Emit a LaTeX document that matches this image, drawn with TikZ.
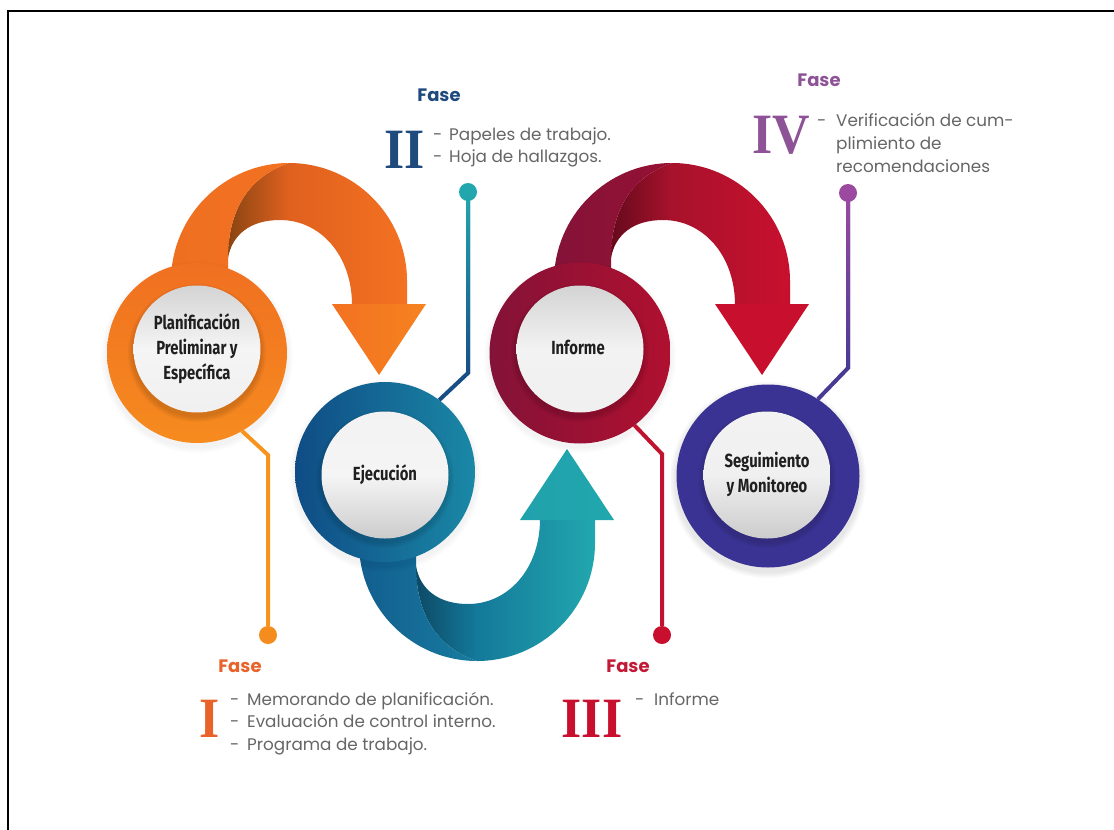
\documentclass[tikz,border=0pt]{standalone}
\usepackage{fontspec}
\setmainfont{Poppins}
\newfontfamily\labfont[FakeStretch=0.78]{Fira Sans}
\newfontfamily\romfont[FakeStretch=0.91]{Liberation Serif}
\usetikzlibrary{calc}
\definecolor{orA}{HTML}{8A4512}\definecolor{orB}{HTML}{E0611F}\definecolor{orC}{HTML}{F37121}
\definecolor{teA}{HTML}{0D4A66}\definecolor{teB}{HTML}{14799A}\definecolor{teC}{HTML}{22A7AE}
\definecolor{reA}{HTML}{660A1C}\definecolor{reB}{HTML}{A8122C}\definecolor{reC}{HTML}{C8102E}
\definecolor{ringAt}{HTML}{F07021}\definecolor{ringAb}{HTML}{F68B1F}
\definecolor{ringBl}{HTML}{0F4C85}\definecolor{ringBr}{HTML}{1A88A6}
\definecolor{ringCl}{HTML}{841238}\definecolor{ringCr}{HTML}{B0102F}
\definecolor{ringD}{HTML}{3B3393}
\definecolor{lineA}{HTML}{F7941E}\definecolor{lineB}{HTML}{174E86}\definecolor{lineC}{HTML}{C0132F}
\definecolor{lineD}{HTML}{4A3A94}\definecolor{dotD}{HTML}{9B4A9F}
\definecolor{faseA}{HTML}{E8622A}\definecolor{faseB}{HTML}{1F4A7E}\definecolor{faseC}{HTML}{C21A36}\definecolor{faseD}{HTML}{8E5296}
\pgfdeclarehorizontalshading{orback}{100bp}{color(0bp)=(orA);color(25bp)=(orA);color(42bp)=(orB);color(75bp)=(orC);color(100bp)=(orC)}
\pgfdeclarehorizontalshading{teback}{100bp}{color(0bp)=(teA);color(25bp)=(teA);color(42bp)=(teB);color(75bp)=(teC);color(100bp)=(teC)}
\pgfdeclarehorizontalshading{reback}{100bp}{color(0bp)=(reA);color(25bp)=(reA);color(42bp)=(reB);color(75bp)=(reC);color(100bp)=(reC)}
\tikzset{
  x=1pt,y=-1pt,
  ring/.style={circle,minimum size=#1,inner sep=0pt,outer sep=0pt},
  disc/.style={circle,minimum size=127pt,inner sep=0pt,text=black!88,
    font=\labfont\bfseries\fontsize{19}{25}\selectfont},
  dotnode/.style={circle,minimum size=18pt,inner sep=0pt,fill=#1},
  conn/.style={line width=4pt,draw=#1},
  fase/.style={anchor=center,font=\bfseries\fontsize{18}{20}\selectfont,text=#1},
  roman/.style={anchor=base,font=\romfont\bfseries\fontsize{57}{57}\selectfont,text=#1},
  item/.style={anchor=base west,inner sep=0pt,text=black!60,font=\fontsize{16.8}{18}\selectfont},
}
\newcommand{\foldarrow}[5]{%
  \shade[shading=#1] (228,258) .. controls (228,215) and (245,178) .. (289,163)
     .. controls (354,163) and (407,216) .. (407,281) -- (407,305) -- (352,305)
     .. controls (352,255) and (320,220) .. (280,220)
     .. controls (250,220) and (232,235) .. (228,258) -- cycle;
  \shade[left color=#2,right color=#3] (171,290) -- (171,281) .. controls (171,216) and (224,163) .. (289,163)
     .. controls (245,178) and (228,215) .. (228,258) -- (228,290) -- cycle;
  \shade[left color=#4,right color=#5] (332,304) -- (426,304) -- (379,375) -- cycle;
}
\newcommand{\softshadow}[3]{%
  \foreach \d in {6,4.5,3,1.5}{\fill[black,opacity=#3] ($(#1)+(0,4)$) circle[radius=#2+\d];}%
}
\newcommand{\lbl}[2]{\raisebox{-#1pt}{\begin{tabular}{@{}c@{}}#2\end{tabular}}}
\begin{document}
\begin{tikzpicture}
\useasboundingbox (0,0) rectangle (1114,830);
\fill[white] (0,0) rectangle (1114,830);
\draw[black,line width=2pt] (8,830) -- (8,11) -- (1114,11);

% arrows
\begin{scope}
  \foldarrow{orback}{orC!96!orA}{orC}{orC}{ringAb!70!orC}
\end{scope}
\begin{scope}[shift={(188,824)},yscale=-1]
  \foldarrow{teback}{ringBl!70!ringBr}{ringBr!80!ringBl}{teC!88!teB}{teC}
\end{scope}
\begin{scope}[xshift=383pt]
  \foldarrow{reback}{ringCl}{ringCl!60!ringCr}{reC}{reC}
\end{scope}

% soft shadows under the rings
\softshadow{197,353}{90}{.012}
\softshadow{385,472}{90}{.012}
\softshadow{580,353}{90}{.012}
\softshadow{768,476}{92}{.025}

% rings
\node[ring=180pt,top color=ringAt,bottom color=ringAb] (ringA) at (197,353) {};
\node[ring=180pt,left color=ringBl,right color=ringBr] (ringB) at (385,472) {};
\node[ring=181pt,left color=ringCl,right color=ringCr] (ringC) at (580,353) {};
\node[ring=183pt,fill=ringD] (ringDd) at (768,476) {};

% disc shadows
\softshadow{197,349}{63}{.035}
\softshadow{385,475}{63}{.03}
\softshadow{580,349}{63}{.035}
\softshadow{767,475}{63}{.035}

% discs
\node[disc,top color=black!17,bottom color=black!6,middle color=black!4] (discA) at (197,349) {\lbl{5}{Planificación\\Preliminar y\\Específica}};
\node[disc,top color=black!5,bottom color=black!20,middle color=black!4] (discB) at (385,475) {\lbl{2}{Ejecución}};
\node[disc,top color=black!17,bottom color=black!6,middle color=black!5] (discC) at (580,349) {\lbl{2}{\hspace*{-4pt}Informe}};
\node[disc,top color=black!5,bottom color=black!20,middle color=black!6] (discD) at (767,475) {\lbl{0}{Seguimiento\\y Monitoreo}};

% connectors
\coordinate (bendA) at (268,455);
\coordinate (bendB) at (468,373);
\coordinate (bendC) at (662,454);
\coordinate (bendD) at (848,368);
\node[dotnode=lineA!85!orB] (dotA) at (268,635) {};
\node[dotnode=teC] (dotB) at (468,192) {};
\node[dotnode=reC] (dotC) at (662,635) {};
\node[dotnode=dotD] (dotDd) at (848,193) {};
\draw[conn=lineA] (ringA.-60) -- (bendA) -- (dotA);
\draw[conn=lineB] (ringB.53) -- (bendB) -- (dotB);
\draw[conn=lineC] (ringC.-53) -- (bendC) -- (dotC);
\draw[conn=lineD] (ringDd.57) -- (bendD) -- (dotDd);
\shade[top color=teC,bottom color=lineB] (466,192) rectangle (470,373);
\shade[top color=dotD,bottom color=lineD] (846,193) rectangle (850,368);

% labels
\node[fase=faseA] (fA) at (240,666) {Fase};
\node[fase=faseB] (fB) at (439,95) {Fase};
\node[fase=faseC] (fC) at (628,666) {Fase};
\node[fase=faseD] (fD) at (819,80) {Fase};

\node[roman=faseA] (romA) at (210,737) {I};
\node[roman=faseB] (romB) at (405,168) {II};
\node[roman=reC] (romC) at (592,737) {III};
\node[roman=faseD] (romD) at (781,153) {IV};

\node[item] (itA1) at (230,705) {\makebox[17pt][l]{-}Memorando de planificación.};
\node[item] (itA2) at (230,727) {\makebox[17pt][l]{-}Evaluación de control interno.};
\node[item] (itA3) at (230,750) {\makebox[17pt][l]{-}Programa de trabajo.};
\node[item] (itB1) at (433,140) {\makebox[16pt][l]{-}Papeles de trabajo.};
\node[item] (itB2) at (433,162) {\makebox[16pt][l]{-}Hoja de hallazgos.};
\node[item] (itC1) at (635,705) {\makebox[19pt][l]{-}Informe};
\node[item] (itD1) at (817,126) {\makebox[19pt][l]{-}Verificación de cum-};
\node[item] (itD2) at (836,149) {plimiento de};
\node[item] (itD3) at (836,172) {recomendaciones};
\end{tikzpicture}
\end{document}
